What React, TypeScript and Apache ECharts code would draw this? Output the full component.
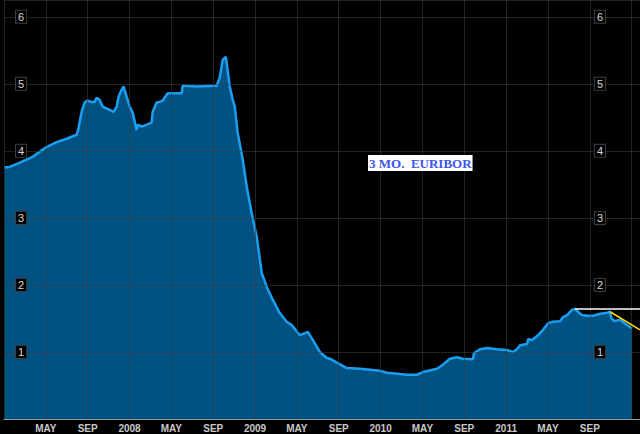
import React, { useEffect, useRef } from "react";
import * as echarts from "echarts";

// months since Jan 2007 (fractional) and 3-month EURIBOR rate (%)
const months = [
  0.05, 0.53, 1.48, 2.73, 3.88, 5.02, 5.98, 6.94, 7.13, 7.42, 7.7, 7.99, 8.37, 8.66, 8.85, 9.14,
  9.43, 10.1, 10.48, 10.77, 10.96, 11.24, 11.44, 11.72, 12.01, 12.3, 12.68, 12.78, 13.16, 13.64,
  14.11, 14.21, 14.59, 14.88, 15.17, 15.65, 16.99, 17.08, 18.42, 20.33, 20.62, 20.91, 21.2, 21.29,
  21.58, 21.87, 22.06, 22.34, 22.82, 23.21, 23.68, 24.16, 24.64, 25.12, 25.69, 26.36, 27.03,
  27.51, 28.28, 28.76, 29.04, 29.52, 30.19, 30.86, 31.15, 31.82, 32.78, 34.02, 35.26, 35.93,
  36.6, 37.85, 38.52, 39.47, 40.05, 41.39, 41.96, 42.63, 43.3, 43.88, 44.83, 44.93, 45.5, 46.17,
  47.13, 48.09, 48.66, 49.04, 49.33, 50.0, 50.1, 50.48, 51.05, 51.53, 52.01, 52.49, 53.16, 53.44,
  53.83, 54.31, 54.59, 54.88, 55.26, 55.74, 56.32, 56.99, 57.56, 57.94, 58.04, 58.33, 58.9,
  59.38, 59.86, 60.05,
];
const rates = [
  3.75, 3.76, 3.82, 3.91, 4.04, 4.13, 4.18, 4.24, 4.34, 4.58, 4.72, 4.75, 4.73, 4.73, 4.79, 4.76,
  4.66, 4.61, 4.58, 4.66, 4.81, 4.91, 4.96, 4.81, 4.66, 4.57, 4.31, 4.39, 4.36, 4.39,
  4.42, 4.58, 4.72, 4.73, 4.75, 4.86, 4.86, 4.97, 4.96, 4.97, 5.09, 5.36, 5.4, 5.31,
  4.96, 4.76, 4.66, 4.27, 3.87, 3.46, 3.07, 2.72, 2.18, 1.97, 1.78, 1.58, 1.45,
  1.4, 1.25, 1.28, 1.3, 1.18, 1.0, 0.91, 0.9, 0.84, 0.76, 0.75, 0.73, 0.72,
  0.69, 0.67, 0.66, 0.66, 0.7, 0.75, 0.81, 0.9, 0.92, 0.9, 0.89, 0.98, 1.04, 1.06,
  1.04, 1.03, 1.0, 1.04, 1.1, 1.12, 1.19, 1.18, 1.25, 1.33, 1.43, 1.45, 1.46, 1.52,
  1.55, 1.63, 1.64, 1.6, 1.55, 1.54, 1.54, 1.57, 1.58, 1.6, 1.51, 1.46, 1.48,
  1.42, 1.37, 1.35,
];

// x tick labels, one per 4-month tick starting at Jan 2007
const xTickLabels = [
  "", "MAY", "SEP", "2008", "MAY", "SEP", "2009", "MAY", "SEP", "2010", "MAY", "SEP",
  "2011", "MAY", "SEP", "",
];

// trend lines: [month, rate]
const flatLine = [
  [54.59, 1.64],
  [60.8, 1.64],
];
const downLine = [
  [57.94, 1.6],
  [60.8, 1.33],
];

const title = "3 MO.  EURIBOR";

export default function App() {
  const ref = useRef<HTMLDivElement>(null);
  useEffect(() => {
    document.body.style.margin = "0";
    document.body.style.background = "#000";
    const chart = echarts.init(ref.current!, null, { renderer: "svg" });
    const gridColor = "rgba(62,62,62,0.55)";
    const yLabel = {
      inside: true,
      color: "#d8d8d8",
      fontSize: 11,
      fontFamily: "Liberation Sans, Arial, sans-serif",
      backgroundColor: "#000",
      borderColor: "#3c3c3c",
      borderWidth: 1,
      padding: [1, 2, 0, 2],
      showMinLabel: false,
      showMaxLabel: false,
    };
    chart.setOption({
      animation: false,
      backgroundColor: "#000",
      grid: { left: 4, right: 0, top: 0, bottom: 15 },
      xAxis: {
        type: "value",
        min: 0,
        max: 60.8,
        interval: 4,
        z: 5,
        axisLine: { show: true, lineStyle: { color: "#9a9a9a", width: 1 } },
        axisTick: { show: false },
        splitLine: { show: true, lineStyle: { color: gridColor, width: 1 } },
        axisLabel: {
          color: "#c8c8c8",
          fontSize: 10,
          fontWeight: "bold",
          fontFamily: "Liberation Sans, Arial, sans-serif",
          margin: 4,
          showMinLabel: true,
          showMaxLabel: false,
          formatter: (v: number) => xTickLabels[Math.round(v / 4)] ?? "",
        },
      },
      yAxis: [
        {
          type: "value",
          min: 0,
          max: 6.25,
          interval: 1,
          position: "left",
          z: 5,
          axisLine: { show: false },
          axisTick: { show: false },
          splitLine: { show: true, lineStyle: { color: gridColor, width: 1 } },
          axisLabel: { ...yLabel, margin: 12 },
        },
        {
          type: "value",
          min: 0,
          max: 6.25,
          interval: 1,
          position: "right",
          z: 5,
          axisLine: { show: false },
          axisTick: { show: false },
          splitLine: { show: false },
          axisLabel: { ...yLabel, margin: 35 },
        },
      ],
      series: [
        {
          type: "line",
          yAxisIndex: 0,
          z: 2,
          data: months.map((m, i) => [m, rates[i]]),
          showSymbol: false,
          smooth: false,
          lineStyle: { color: "#1a9ff0", width: 2.5 },
          areaStyle: { color: "#005282", opacity: 1, origin: "start" },
          markLine: {
            silent: true,
            symbol: "none",
            z: 6,
            label: { show: false },
            data: [
              [
                { coord: flatLine[0], lineStyle: { color: "#ffffff", width: 1.5, type: "solid" } },
                { coord: flatLine[1] },
              ],
              [
                { coord: downLine[0], lineStyle: { color: "#ffd800", width: 1.5, type: "solid" } },
                { coord: downLine[1] },
              ],
            ],
          },
        },
      ],
      graphic: [
        {
          type: "text",
          left: 368,
          top: 155,
          z: 10,
          style: {
            text: title,
            fill: "#3d56ee",
            fontSize: 13,
            fontWeight: "bold",
            fontFamily: "Liberation Serif, Times New Roman, serif",
            backgroundColor: "#ffffff",
            padding: [2, 1, 1, 1],
          },
        },
      ],
    });
    return () => chart.dispose();
  }, []);
  return <div ref={ref} style={{ width: 640, height: 434 }} />;
}
